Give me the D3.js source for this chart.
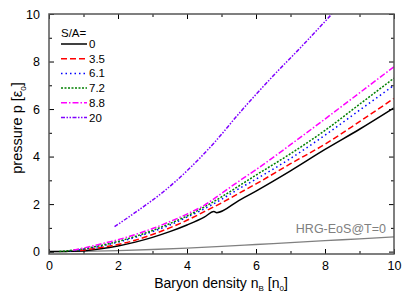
<!DOCTYPE html>
<html>
<head>
<meta charset="utf-8">
<script src="https://cdn.jsdelivr.net/npm/d3@7"></script>
<style>
body { margin: 0; background: #fff; }
text { font-family: "Liberation Sans", Arial, sans-serif; }
</style>
</head>
<body>
<svg id="chart" width="415" height="294"></svg>
<script>
// values
var sa0X = [0, 0.5, 1, 1.5, 2, 2.5, 3, 3.5, 4, 4.5, 4.78, 4.86, 5.5, 6, 7, 8, 9, 10];
var sa0Y = [0, 0.01, 0.04, 0.12, 0.24, 0.4, 0.6, 0.84, 1.12, 1.45, 1.69, 1.64, 2.15, 2.55, 3.4, 4.3, 5.15, 6.05];

var sa35X = [0.9, 1.5, 2, 2.5, 3, 3.5, 4, 4.5, 5, 5.5, 6, 7, 8, 9, 10];
var sa35Y = [0.05, 0.17, 0.3, 0.48, 0.72, 1.0, 1.32, 1.68, 2.05, 2.45, 2.85, 3.7, 4.52, 5.47, 6.45];

var sa61X = [0.6, 1, 1.5, 2, 2.5, 3, 3.5, 4, 4.5, 5, 5.5, 6, 7, 8, 9, 10];
var sa61Y = [0.03, 0.1, 0.23, 0.4, 0.6, 0.84, 1.12, 1.45, 1.8, 2.2, 2.64, 3.05, 3.92, 4.9, 5.95, 7.0];

var sa72X = [0.3, 0.5, 1, 1.5, 2, 2.5, 3, 3.5, 4, 4.5, 5, 5.5, 6, 7, 8, 9, 10];
var sa72Y = [0.01, 0.03, 0.12, 0.26, 0.43, 0.64, 0.89, 1.18, 1.5, 1.88, 2.3, 2.76, 3.22, 4.12, 5.1, 6.2, 7.3];

var sa88X = [0.7, 1, 1.5, 2, 2.5, 3, 3.5, 4, 4.5, 5, 5.5, 6, 7, 8, 9, 10];
var sa88Y = [0.06, 0.15, 0.32, 0.5, 0.72, 0.97, 1.26, 1.58, 1.95, 2.45, 2.96, 3.45, 4.5, 5.58, 6.68, 7.78];

var sa20X = [1.9, 2.6, 3.3, 4.0, 4.8, 5.5, 6.5, 7.3, 8.2];
var sa20Y = [1.05, 1.75, 2.5, 3.4, 4.6, 5.8, 7.4, 8.6, 10.0];

var hrgX = [0, 1, 2, 3, 4, 5, 6, 7, 8, 9, 10];
var hrgY = [0, 0.01, 0.04, 0.09, 0.15, 0.22, 0.3, 0.38, 0.46, 0.54, 0.62];

var labels = ["0", "3.5", "6.1", "7.2", "8.8", "20"];
var colors = ["#000000", "#ff0000", "#0000ff", "#008000", "#ff00ff", "#8000ff"];
var dashes = ["none", "6,3", "1.5,3", "2,1.5", "6,2,1.5,2", "4,1.5,1.5,1.5,1.5,1.5"];

var xTicks = [0, 2, 4, 6, 8, 10];
var yTicks = [0, 2, 4, 6, 8, 10];

var svg = d3.select("#chart"),
    margin = {top: 14, right: 21, bottom: 40, left: 49},
    width = +svg.attr("width") - margin.left - margin.right,
    height = +svg.attr("height") - margin.top - margin.bottom,
    g = svg.append("g").attr("transform", "translate(" + margin.left + "," + margin.top + ")");

var x = d3.scaleLinear().domain([0, 10]).range([0, width]);
var y = d3.scaleLinear().domain([-0.1, 10]).range([height, 0]);

var series = [
    [sa0X, sa0Y], [sa35X, sa35Y], [sa61X, sa61Y],
    [sa72X, sa72Y], [sa88X, sa88Y], [sa20X, sa20Y]
].map(function (s) {
    return s[0].map(function (v, i) { return [v, s[1][i]]; });
});

var line = d3.line()
    .x(function (d) { return x(d[0]); })
    .y(function (d) { return y(d[1]); })
    .curve(d3.curveMonotoneX);

g.append("clipPath").attr("id", "clip")
    .append("rect").attr("width", width).attr("height", height);

var plot = g.append("g").attr("clip-path", "url(#clip)");

plot.append("path")
    .datum(hrgX.map(function (v, i) { return [v, hrgY[i]]; }))
    .attr("fill", "none")
    .attr("stroke", "#808080")
    .attr("stroke-width", 1.3)
    .attr("d", line);

plot.selectAll(".sa")
    .data(series)
    .enter().append("path")
    .attr("class", "sa")
    .attr("fill", "none")
    .attr("stroke", function (d, i) { return colors[i]; })
    .attr("stroke-width", 1.5)
    .attr("stroke-dasharray", function (d, i) { return dashes[i]; })
    .attr("d", line);

// axes: ticks pointing inward on all four sides
function tickAxis(axis, tr) {
    var a = g.append("g").attr("transform", tr).call(axis);
    a.select(".domain").remove();
    a.selectAll("line").attr("stroke", "#000");
    return a;
}

var minor = d3.range(1, 10, 2);

tickAxis(d3.axisBottom(x).tickValues(xTicks).tickSize(-5).tickPadding(7).tickFormat(d3.format("d")),
    "translate(0," + height + ")")
    .selectAll("text").attr("font-size", 12.5).attr("fill", "#000");
tickAxis(d3.axisBottom(x).tickValues(minor).tickSize(-3).tickFormat(""), "translate(0," + height + ")");
tickAxis(d3.axisTop(x).tickValues(xTicks).tickSize(-5).tickFormat(""), "translate(0,0)");
tickAxis(d3.axisTop(x).tickValues(minor).tickSize(-3).tickFormat(""), "translate(0,0)");

tickAxis(d3.axisLeft(y).tickValues(yTicks).tickSize(-5).tickPadding(9).tickFormat(d3.format("d")),
    "translate(0,0)")
    .selectAll("text").attr("font-size", 12.5).attr("fill", "#000");
tickAxis(d3.axisLeft(y).tickValues(minor).tickSize(-3).tickFormat(""), "translate(0,0)");
tickAxis(d3.axisRight(y).tickValues(yTicks).tickSize(-5).tickFormat(""), "translate(" + width + ",0)");
tickAxis(d3.axisRight(y).tickValues(minor).tickSize(-3).tickFormat(""), "translate(" + width + ",0)");

g.append("rect")
    .attr("width", width)
    .attr("height", height)
    .attr("fill", "none")
    .attr("stroke", "#555")
    .attr("stroke-width", 1.5);

// axis titles
var xt = svg.append("text")
    .attr("x", 221)
    .attr("y", 288)
    .attr("text-anchor", "middle")
    .attr("font-size", 14);
xt.append("tspan").text("Baryon density n");
xt.append("tspan").attr("font-size", 8).attr("dy", 3).text("B");
xt.append("tspan").attr("dy", -3).text(" [n");
xt.append("tspan").attr("font-size", 8).attr("dy", 3).text("0");
xt.append("tspan").attr("dy", -3).text("]");

var yt = svg.append("text")
    .attr("transform", "translate(22,128) rotate(-90)")
    .attr("text-anchor", "middle")
    .attr("font-size", 14.5);
yt.append("tspan").text("pressure p [\u03b5");
yt.append("tspan").attr("font-size", 8).attr("dy", 4).text("0");
yt.append("tspan").attr("dy", -4).text("]");

g.append("text")
    .attr("x", width - 8)
    .attr("y", 219)
    .attr("text-anchor", "end")
    .attr("font-size", 12.5)
    .attr("fill", "#808080")
    .text("HRG-EoS@T=0");

// legend
var legend = g.append("g").attr("transform", "translate(12,0)");

legend.append("text")
    .attr("x", 0)
    .attr("y", 23)
    .attr("font-size", 11.5)
    .text("S/A=");

var item = legend.selectAll(".item")
    .data(labels)
    .enter().append("g")
    .attr("class", "item")
    .attr("transform", function (d, i) { return "translate(0," + (30 + i * 14.7) + ")"; });

item.append("line")
    .attr("x1", 0)
    .attr("x2", 26)
    .attr("stroke", function (d, i) { return colors[i]; })
    .attr("stroke-width", 1.5)
    .attr("stroke-dasharray", function (d, i) { return dashes[i]; });

item.append("text")
    .attr("x", 28)
    .attr("dy", "0.35em")
    .attr("font-size", 11.5)
    .text(function (d) { return d; });
</script>
</body>
</html>
